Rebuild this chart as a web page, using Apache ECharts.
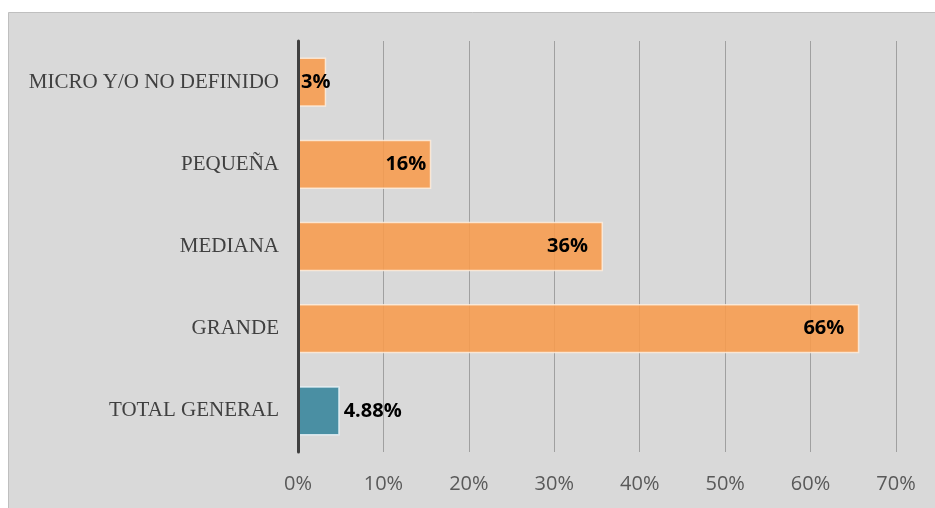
<!DOCTYPE html>
<html>
<head>
<meta charset="utf-8">
<script src="https://cdn.jsdelivr.net/npm/echarts@6/dist/echarts.min.js"></script>
<style>
html,body{margin:0;padding:0;background:#ffffff;}
#chart{width:935px;height:508px;}
</style>
</head>
<body>
<div id="chart"></div>
<script>
const categories = ['MICRO Y/O NO DEFINIDO', 'PEQUEÑA', 'MEDIANA', 'GRANDE', 'TOTAL GENERAL'];
const segmentValues = [3.3, 15.6, 35.7, 65.7];
const segmentLabels = ['3%', '16%', '36%', '66%'];
const totalValue = 4.88;
const totalLabel = '4.88%';
const xTicks = [0, 10, 20, 30, 40, 50, 60, 70];

const chart = echarts.init(document.getElementById('chart'));

const orangeData = categories.map((c, i) => {
  if (i >= segmentValues.length) return null;
  const item = { value: segmentValues[i], label: { formatter: segmentLabels[i] } };
  if (i === 0) { item.label.position = 'insideLeft'; item.label.distance = 3; }
  if (i >= 2) item.label.distance = 15;
  return item;
});
const tealData = categories.map((c, i) => i === categories.length - 1 ? { value: totalValue, label: { formatter: totalLabel } } : null);

const valueLabel = {
  show: true,
  fontFamily: 'Open Sans',
  fontWeight: 'bold',
  fontSize: 20,
  color: '#000000'
};

chart.setOption({
  backgroundColor: 'transparent',
  animation: false,
  graphic: [{
    type: 'rect',
    z: -10,
    shape: { x: 8.5, y: 12.5, width: 940, height: 510 },
    style: { fill: '#d9d9d9', stroke: '#bfbfbf', lineWidth: 1 }
  }],
  grid: { left: 298, right: 39, top: 41, bottom: 56, containLabel: false },
  xAxis: {
    type: 'value',
    min: xTicks[0],
    max: xTicks[xTicks.length - 1],
    interval: 10,
    axisLine: { show: false },
    axisTick: { show: false },
    axisLabel: {
      formatter: v => v + '%',
      fontFamily: 'Open Sans',
      fontSize: 20,
      color: '#595959',
      margin: 22
    },
    splitLine: { show: true, lineStyle: { color: '#a0a0a0', width: 1 } }
  },
  yAxis: {
    type: 'category',
    data: categories,
    inverse: true,
    axisLine: { show: true, lineStyle: { color: '#404040', width: 3 } },
    axisTick: { show: false },
    axisLabel: {
      fontFamily: 'Liberation Serif',
      fontSize: 21,
      color: '#404040',
      margin: 19
    },
    z: 5
  },
  series: [
    {
      type: 'bar',
      stack: 'a',
      barWidth: '60%',
      data: orangeData,
      itemStyle: { color: 'rgba(247,155,76,0.88)', borderColor: 'rgba(255,240,225,0.8)', borderWidth: 1.5 },
      label: Object.assign({ position: 'insideRight', distance: 5 }, valueLabel)
    },
    {
      type: 'bar',
      stack: 'a',
      barWidth: '60%',
      data: tealData,
      itemStyle: { color: '#4a8fa3', borderColor: 'rgba(235,245,250,0.8)', borderWidth: 1.5 },
      label: Object.assign({ position: 'right', distance: 4 }, valueLabel)
    }
  ]
});
</script>
</body>
</html>
